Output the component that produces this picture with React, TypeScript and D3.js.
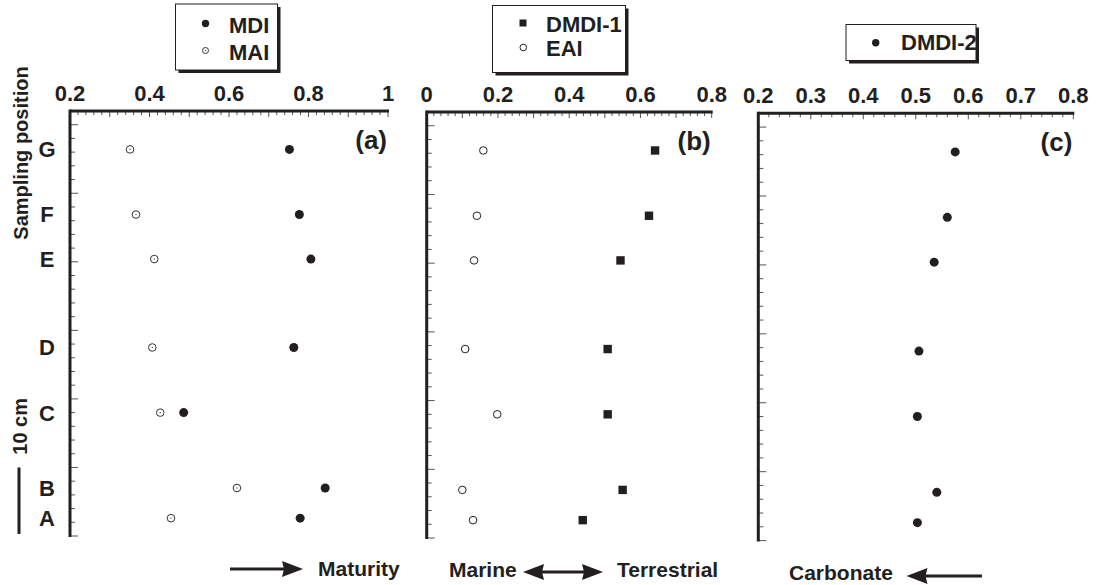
import React, { useEffect, useRef } from 'react';
import * as d3 from 'd3';

// sampling positions, bottom to top, with their height in the core (cm)
const samples = ['A', 'B', 'C', 'D', 'E', 'F', 'G'];
const depthCm = [2.6, 7.0, 18.0, 27.5, 40.4, 46.9, 56.4];

const mdi = [0.779, 0.842, 0.486, 0.763, 0.806, 0.777, 0.752];
const mai = [0.454, 0.620, 0.427, 0.407, 0.412, 0.366, 0.351];
const dmdi1 = [0.438, 0.550, 0.508, 0.508, 0.544, 0.624, 0.641];
const eai = [0.130, 0.100, 0.198, 0.108, 0.133, 0.141, 0.159];
const dmdi2 = [0.503, 0.540, 0.503, 0.506, 0.535, 0.560, 0.575];

const ticksA = [0.2, 0.4, 0.6, 0.8, 1];
const ticksB = [0, 0.2, 0.4, 0.6, 0.8];
const ticksC = [0.2, 0.3, 0.4, 0.5, 0.6, 0.7, 0.8];

const INK = '#231f20';
const FONT = '"Liberation Sans", Arial, sans-serif';

const W = 1097;
const H = 585;

const panels = [
    { id: 'a', x0: 70, x1: 388, top: 111, bottom: 536, domain: [0.2, 1], ticks: ticksA },
    { id: 'b', x0: 426.7, x1: 711.7, top: 112, bottom: 538, domain: [0, 0.8], ticks: ticksB },
    { id: 'c', x0: 758.3, x1: 1073.3, top: 113.3, bottom: 540.6, domain: [0.2, 0.8], ticks: ticksC },
];

const fmt = v => (Math.abs(v - Math.round(v)) < 1e-9 ? String(Math.round(v)) : d3.format('.1f')(v));

const App = () => {
    const ref = useRef();

    useEffect(() => {
        const svg = d3.select(ref.current);
        svg.selectAll('*').remove();
        svg.attr('width', W).attr('height', H).style('font-family', FONT);

        svg.append('rect').attr('width', W).attr('height', H).attr('fill', 'white');

        const g = {};
        panels.forEach(p => {
            const x = d3.scaleLinear().domain(p.domain).range([p.x0, p.x1]);
            const y = d3.scaleLinear().domain([0, 62]).range([p.bottom, p.top]);
            g[p.id] = { x, y };
            const panel = svg.append('g');

            // top axis minor / major ticks
            const minor = d3.range(p.domain[0], p.domain[1] + 1e-9, 0.02);
            panel.selectAll('.xt')
                .data(minor)
                .join('line')
                .attr('x1', d => x(d))
                .attr('x2', d => x(d))
                .attr('y1', p.top)
                .attr('y2', (d, i) => p.top + (i % 5 === 0 ? 6 : 4))
                .attr('stroke', '#555')
                .attr('stroke-width', 1);

            // left axis ticks, every 2 cm, longer each 10 cm
            const yt = d3.range(0, 62, 2);
            panel.selectAll('.yt')
                .data(yt)
                .join('line')
                .attr('x1', p.x0)
                .attr('x2', d => p.x0 + (d % 10 === 0 ? 8 : 5))
                .attr('y1', d => y(d))
                .attr('y2', d => y(d))
                .attr('stroke', '#555')
                .attr('stroke-width', 1);

            panel.append('line')
                .attr('x1', p.x0).attr('x2', p.x1 + 1)
                .attr('y1', p.top).attr('y2', p.top)
                .attr('stroke', INK).attr('stroke-width', 3);
            panel.append('line')
                .attr('x1', p.x0).attr('x2', p.x0)
                .attr('y1', p.top - 1.5).attr('y2', p.bottom + 1)
                .attr('stroke', INK).attr('stroke-width', 3);

            panel.selectAll('.xl')
                .data(p.ticks)
                .join('text')
                .attr('x', d => x(d))
                .attr('y', p.top - 10)
                .attr('text-anchor', 'middle')
                .attr('font-size', 22)
                .attr('font-weight', 'bold')
                .attr('fill', INK)
                .text(d => fmt(d));

            panel.append('text')
                .attr('x', p.x1 - 1)
                .attr('y', p.top + 38)
                .attr('text-anchor', 'end')
                .attr('font-size', 26)
                .attr('font-weight', 'bold')
                .attr('fill', INK)
                .text(`(${p.id})`);
        });

        const filledCircle = (sel, x, y, vals) => sel.selectAll(null)
            .data(vals)
            .join('circle')
            .attr('cx', d => x(d))
            .attr('cy', (d, i) => y(depthCm[i]))
            .attr('r', 4.5)
            .attr('fill', INK);

        // (a)
        const A = g.a;
        filledCircle(svg.append('g'), A.x, A.y, mdi);
        const maiG = svg.append('g');
        maiG.selectAll('circle')
            .data(mai)
            .join('circle')
            .attr('cx', d => A.x(d))
            .attr('cy', (d, i) => A.y(depthCm[i]))
            .attr('r', 3.8)
            .attr('fill', 'white')
            .attr('stroke', '#333')
            .attr('stroke-width', 1);
        maiG.selectAll('rect')
            .data(mai)
            .join('rect')
            .attr('x', d => A.x(d) - 0.6)
            .attr('y', (d, i) => A.y(depthCm[i]) - 0.6)
            .attr('width', 1.2)
            .attr('height', 1.2)
            .attr('fill', '#444');

        // (b)
        const B = g.b;
        svg.append('g').selectAll('rect')
            .data(dmdi1)
            .join('rect')
            .attr('x', d => B.x(d) - 4.2)
            .attr('y', (d, i) => B.y(depthCm[i]) - 4.2)
            .attr('width', 8.4)
            .attr('height', 8.4)
            .attr('fill', INK);
        svg.append('g').selectAll('circle')
            .data(eai)
            .join('circle')
            .attr('cx', d => B.x(d))
            .attr('cy', (d, i) => B.y(depthCm[i]))
            .attr('r', 3.8)
            .attr('fill', 'white')
            .attr('stroke', INK)
            .attr('stroke-width', 1);

        // (c)
        const C = g.c;
        filledCircle(svg.append('g'), C.x, C.y, dmdi2);

        // sample letters along panel (a)
        svg.append('g').selectAll('text')
            .data(samples)
            .join('text')
            .attr('x', 47)
            .attr('y', (d, i) => A.y(depthCm[i]))
            .attr('dy', '0.36em')
            .attr('text-anchor', 'middle')
            .attr('font-size', 22)
            .attr('font-weight', 'bold')
            .attr('fill', INK)
            .text(d => d);

        svg.append('text')
            .attr('transform', 'translate(28,153) rotate(-90)')
            .attr('text-anchor', 'middle')
            .attr('font-size', 20)
            .attr('font-weight', 'bold')
            .attr('fill', INK)
            .text('Sampling position');

        // 10 cm scale bar
        svg.append('line')
            .attr('x1', 19).attr('x2', 19)
            .attr('y1', A.y(10)).attr('y2', A.y(0.3))
            .attr('stroke', INK).attr('stroke-width', 3);
        svg.append('text')
            .attr('transform', `translate(27,${A.y(16)}) rotate(-90)`)
            .attr('text-anchor', 'middle')
            .attr('font-size', 20)
            .attr('font-weight', 'bold')
            .attr('fill', INK)
            .text('10 cm');

        // legends
        const legendBox = (x, y, w, h) => {
            svg.append('rect').attr('x', x + 3).attr('y', y + 3).attr('width', w).attr('height', h).attr('fill', INK);
            svg.append('rect').attr('x', x).attr('y', y).attr('width', w).attr('height', h)
                .attr('fill', 'white').attr('stroke', INK).attr('stroke-width', 1);
        };
        const legendText = (x, y, t) => svg.append('text')
            .attr('x', x).attr('y', y)
            .attr('font-size', 22).attr('font-weight', 'bold').attr('fill', INK)
            .text(t);

        legendBox(175.5, 4, 102, 66);
        svg.append('circle').attr('cx', 205.5).attr('cy', 23.5).attr('r', 3.7).attr('fill', INK);
        svg.append('circle').attr('cx', 205.5).attr('cy', 50.5).attr('r', 3).attr('fill', 'white')
            .attr('stroke', '#333').attr('stroke-width', 1);
        svg.append('rect').attr('x', 204.9).attr('y', 49.9).attr('width', 1.2).attr('height', 1.2).attr('fill', '#444');
        legendText(229, 33, 'MDI');
        legendText(229, 60, 'MAI');

        legendBox(492.5, 5.5, 133, 67);
        svg.append('rect').attr('x', 519.5).attr('y', 19.5).attr('width', 7).attr('height', 7).attr('fill', INK);
        svg.append('circle').attr('cx', 523.3).attr('cy', 47.5).attr('r', 3.3).attr('fill', 'white')
            .attr('stroke', INK).attr('stroke-width', 1);
        legendText(546, 32, 'DMDI-1');
        legendText(546, 56, 'EAI');

        legendBox(846, 24.5, 130, 36);
        svg.append('circle').attr('cx', 875.7).attr('cy', 42.7).attr('r', 3.7).attr('fill', INK);
        legendText(901, 50, 'DMDI-2');

        // direction arrows
        const head = (tipX, y, dir) => {
            const bx = tipX - dir * 21;
            svg.append('path')
                .attr('d', `M${tipX},${y} L${bx},${y - 8} L${bx + dir * 2},${y} L${bx},${y + 8} Z`)
                .attr('fill', INK);
        };
        const shaft = (x1, x2, y) => svg.append('line')
            .attr('x1', x1).attr('x2', x2).attr('y1', y).attr('y2', y)
            .attr('stroke', INK).attr('stroke-width', 3);
        const bottomText = (x, y, t) => svg.append('text')
            .attr('x', x).attr('y', y)
            .attr('font-size', 21).attr('font-weight', 'bold').attr('fill', INK)
            .text(t);

        shaft(230, 290, 569);
        head(303, 569, 1);
        bottomText(318, 576, 'Maturity');

        bottomText(449, 577, 'Marine');
        shaft(535, 591, 572);
        head(523, 572, -1);
        head(603, 572, 1);
        bottomText(617, 577, 'Terrestrial');

        bottomText(789, 580, 'Carbonate');
        shaft(918, 982, 576);
        head(906.5, 576, -1);
    }, []);

    return (
        <div style={{ position: 'absolute', left: 0, top: 0 }}>
            <svg ref={ref} />
        </div>
    );
};

export default App;
